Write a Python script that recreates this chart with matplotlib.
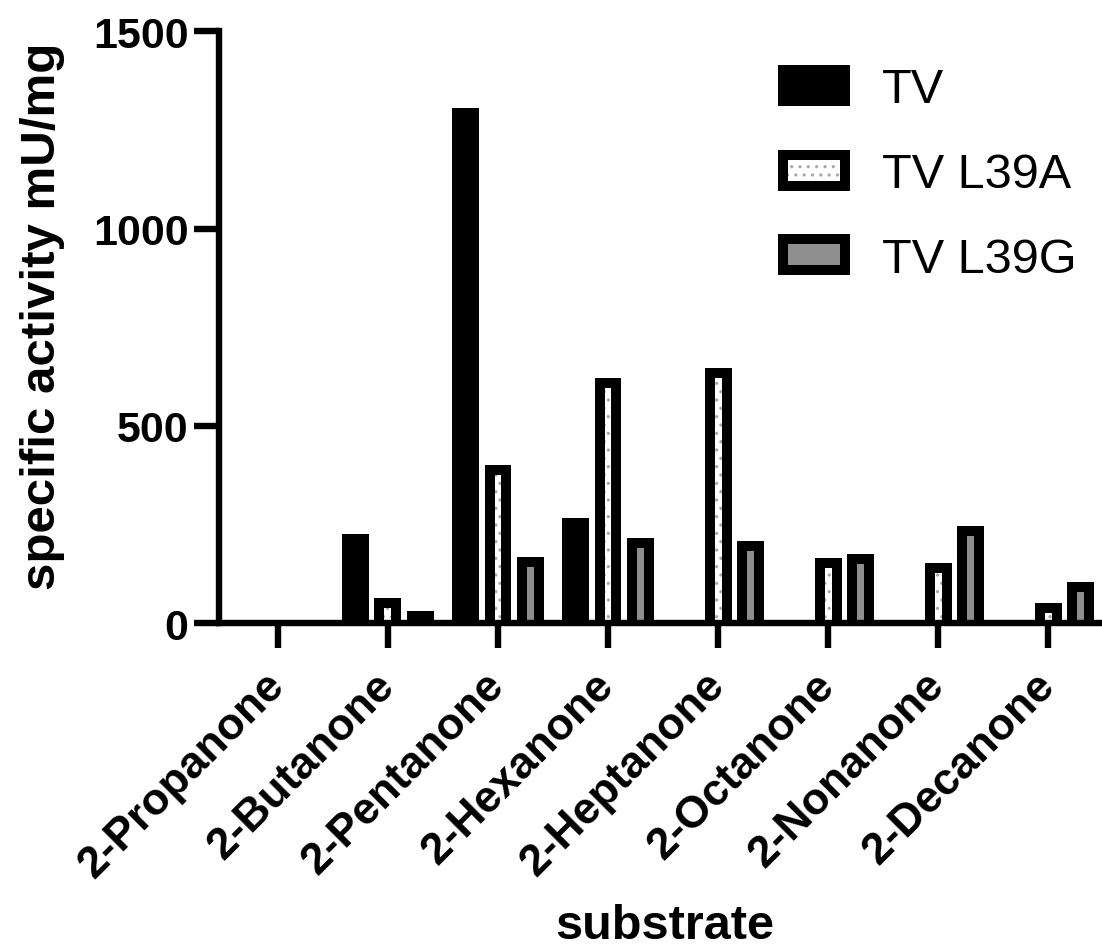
import numpy as np
import matplotlib
matplotlib.use("Agg")
import matplotlib.pyplot as plt
from matplotlib.patches import Rectangle
from matplotlib.legend_handler import HandlerBase

# ---- data -------------------------------------------------------------
substrates = ["2-Propanone", "2-Butanone", "2-Pentanone", "2-Hexanone",
              "2-Heptanone", "2-Octanone", "2-Nonanone", "2-Decanone"]
series_names = ["TV", "TV L39A", "TV L39G"]
tv = [0, 225, 1305, 266, 0, 0, 0, 0]
tv_l39a = [0, 63, 401, 622, 647, 166, 151, 51]
tv_l39g = [0, 30, 168, 216, 207, 174, 247, 104]
y_ticks = [0, 500, 1000, 1500]

# ---- style --------------------------------------------------------------
plt.rcParams['font.family'] = ['Liberation Sans', 'DejaVu Sans']
plt.rcParams['hatch.linewidth'] = 1.1

DOT_GREY = "#a8a8a8"
FILL_GREY = "#8e8e8e"
BORDER_PT = 7.2          # thickness of the inner black frame
fills = [("black", None), ("white", ".."), (FILL_GREY, None)]

fig = plt.figure(figsize=(11.02, 9.53), dpi=100)
ax = fig.add_axes([0.1987, 0.3452, 0.8013, 0.6207])
ax.set_xlim(-0.536, 7.49)
ax.set_ylim(0, 1500)

# frame thickness expressed in data units
p0 = ax.transData.transform((0, 0))
p1 = ax.transData.transform((1, 1))
border_px = BORDER_PT * fig.dpi / 72.0
tx = border_px / (p1[0] - p0[0])
ty = border_px / (p1[1] - p0[1])

x = np.arange(len(substrates))
width = 0.245
step = 0.295
for k, (vals, (fill, hatch)) in enumerate(zip([tv, tv_l39a, tv_l39g], fills)):
    xs = x + (k - 1) * step
    v = np.asarray(vals, dtype=float)
    ax.bar(xs, v, width, color="black", linewidth=0, zorder=1.5)
    if fill != "black":
        inner = np.clip(v - ty, 0, None)
        ax.bar(xs, inner, width - 2 * tx, facecolor=fill,
               edgecolor=DOT_GREY if hatch else "none", linewidth=0,
               hatch=hatch, zorder=1.6)

# ---- axes ---------------------------------------------------------------
for side in ("top", "right"):
    ax.spines[side].set_visible(False)
for side in ("left", "bottom"):
    ax.spines[side].set_linewidth(4.6)
    ax.spines[side].set_capstyle("projecting")

ax.set_yticks(y_ticks)
ax.set_yticklabels([str(t) for t in y_ticks], fontsize=31, fontweight="bold")
ax.set_xticks(x)
ax.set_xticklabels(substrates, fontsize=32, fontweight="bold", rotation=45,
                   ha="right", va="center", rotation_mode="anchor")
ax.tick_params(axis="both", direction="out", length=18, width=4.6, color="black")
ax.tick_params(axis="y", pad=4)
ax.tick_params(axis="x", pad=22)

ax.set_ylabel("specific activity mU/mg", fontsize=35.5, fontweight="bold", va="center")
ax.yaxis.set_label_coords(-0.2, 0.521)
ax.set_xlabel("substrate", fontsize=35, fontweight="bold", va="center")
ax.xaxis.set_label_coords(0.505, -0.512)


# ---- legend -------------------------------------------------------------
class FramedHandler(HandlerBase):
    def __init__(self, fill, hatch=None):
        super().__init__()
        self.fill = fill
        self.hatch = hatch

    def create_artists(self, legend, orig_handle, xdescent, ydescent,
                       width, height, fontsize, trans):
        x0, y0 = -xdescent, -ydescent
        arts = [Rectangle((x0, y0), width, height, facecolor="black",
                          edgecolor="none", transform=trans)]
        if self.fill != "black":
            b = BORDER_PT
            arts.append(Rectangle((x0 + b, y0 + b), width - 2 * b, height - 2 * b,
                                  facecolor=self.fill,
                                  edgecolor=DOT_GREY if self.hatch else "none",
                                  linewidth=0, hatch=self.hatch, transform=trans))
        return arts


proxies = [Rectangle((0, 0), 1, 1) for _ in series_names]
handler_map = {p: FramedHandler(f, h) for p, (f, h) in zip(proxies, fills)}
ax.legend(proxies, series_names, handler_map=handler_map, fontsize=35,
          frameon=False, loc="upper left",
          bbox_to_anchor=(778 / 1102, 1 - 66 / 953), bbox_transform=fig.transFigure,
          borderpad=0, borderaxespad=0, handlelength=1.48, handleheight=0.92,
          handletextpad=0.66, labelspacing=0.77)

fig.savefig("out.png", dpi=100)
